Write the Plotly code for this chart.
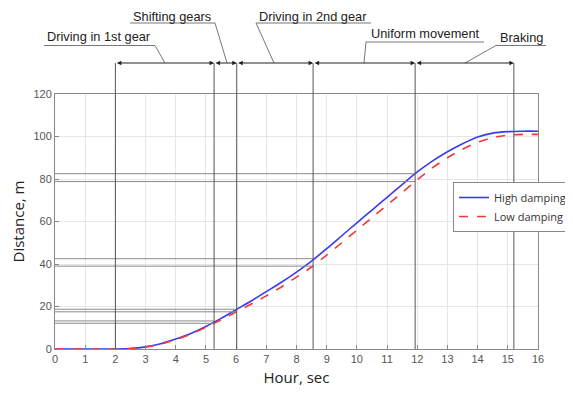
import plotly.graph_objects as go

# ---- data ----
time_s = [0, 0.5, 1, 1.5, 2, 2.5, 3, 3.5, 4, 4.5, 5, 5.5, 6, 6.5, 7, 7.5, 8,
          8.5, 9, 9.5, 10, 10.5, 11, 11.5, 12, 12.5, 13, 13.5, 14, 14.5, 15, 15.5, 16]
high_damping = [0, 0, 0, 0, 0, 0.2, 1.0, 2.5, 4.7, 7.3, 10.6, 14.4, 18.5, 22.6, 27.0, 31.4, 36.2,
                41.4, 47.2, 53.3, 59.4, 65.4, 71.4, 77.4, 83.3, 88.4, 92.8, 96.6, 99.8, 101.6, 102.3, 102.5, 102.5]
low_damping = [0, 0, 0, 0, 0, 0.2, 0.9, 2.3, 4.4, 7.0, 10.2, 13.7, 17.4, 21.2, 25.0, 29.2, 33.8,
               38.6, 44.2, 50.0, 55.9, 61.8, 67.7, 73.6, 79.6, 85.2, 90.0, 94.0, 97.3, 99.5, 100.6, 101.0, 101.0]

event_times = [2.0, 5.27, 6.02, 8.55, 11.93, 15.2]
level_times = [5.27, 6.02, 8.55, 11.93]
level_high = [13.2, 18.7, 42.5, 82.5]
level_low = [12.1, 17.5, 39.0, 78.8]

phase_labels = ["Driving in 1st gear", "Shifting gears", "Driving in 2nd gear",
                "Uniform movement", "Braking"]

x_ticks = list(range(0, 17))
y_ticks = [0, 20, 40, 60, 80, 100, 120]

# ---- layout helpers (page pixel -> paper); page body adds an 8px offset ----
OFF = 8
W, H = 573 - OFF, 394 - OFF
ML, MR, MT, MB = 55 - OFF, 35, 94 - OFF, 45
PW, PH = W - ML - MR, H - MT - MB


def px(x):
    return (x - OFF - ML) / PW


def py(y):
    return (H - MB - (y - OFF)) / PH


fig = go.Figure()
fig.add_trace(go.Scatter(x=time_s, y=high_damping, mode="lines", name="High damping",
                         line=dict(color="#3a3aee", width=1.6, shape="spline", smoothing=0.8)))
fig.add_trace(go.Scatter(x=time_s, y=low_damping, mode="lines", name="Low damping",
                         line=dict(color="#f03a3a", width=1.6, dash="dash", shape="spline", smoothing=0.8)))

shapes = []
# horizontal level lines
for t, a, b in zip(level_times, level_high, level_low):
    for v in (a, b):
        shapes.append(dict(type="line", xref="x", yref="y", x0=0, x1=t, y0=v, y1=v,
                           line=dict(color="#8a8a8a", width=1), layer="above"))
# vertical event lines
dim_y = py(63)
for t in event_times:
    shapes.append(dict(type="line", xref="x", yref="paper", x0=t, x1=t, y0=0, y1=dim_y,
                       line=dict(color="#555555", width=1), layer="above"))

# leader lines (underline + slanted leader)
leaders = [
    # (underline x0, underline x1, underline y, leader from x, leader to x)
    (44, 155, 45.5, 155, 165),
    (130, 215, 23, 215, 227),
    (256, 371, 23, 256, 274),
    (366, 484, 42, 366, 364),
    (496, 546, 45.5, 496, 465),
]
texts_pos = [(99, 37), (172, 17), (313, 17), (425, 34), (521, 38)]
annotations = []
for (u0, u1, uy, lf, lt), (tx, ty), lab in zip(leaders, texts_pos, phase_labels):
    shapes.append(dict(type="line", xref="paper", yref="paper", x0=px(u0), x1=px(u1),
                       y0=py(uy), y1=py(uy), line=dict(color="#777777", width=1)))
    shapes.append(dict(type="line", xref="paper", yref="paper", x0=px(lf), x1=px(lt),
                       y0=py(uy), y1=dim_y, line=dict(color="#777777", width=1)))
    annotations.append(dict(text=lab, xref="paper", yref="paper", x=px(tx), y=py(ty),
                            showarrow=False, xanchor="center", yanchor="middle",
                            font=dict(family="Liberation Sans, Arial", size=12.8, color="#222222")))

# dimension arrows between event lines
for t0, t1 in zip(event_times[:-1], event_times[1:]):
    annotations.append(dict(text="", xref="x", yref="paper", x=t1, y=dim_y,
                            axref="x", ayref="pixel", ax=t0, ay=0,
                            showarrow=True, arrowside="end+start", arrowhead=2,
                            arrowsize=0.9, arrowwidth=1, arrowcolor="#222222",
                            standoff=0, startstandoff=0))

fig.update_layout(
    width=W, height=H,
    margin=dict(l=ML, r=MR, t=MT, b=MB, autoexpand=False),
    paper_bgcolor="white", plot_bgcolor="white",
    shapes=shapes, annotations=annotations,
    showlegend=True,
    legend=dict(x=px(453), y=py(182), xanchor="left", yanchor="top",
                bgcolor="white", bordercolor="#888888", borderwidth=1,
                font=dict(family="Open Sans", size=11, color="#333333"),
                tracegroupgap=0, itemwidth=30),
    xaxis=dict(range=[0, 16], tickvals=x_ticks, ticks="inside", ticklen=4,
               tickcolor="#888888", showline=True, linecolor="#888888", mirror=True,
               showgrid=True, gridcolor="#e6e6e6", zeroline=False,
               tickfont=dict(family="Liberation Sans, Arial", size=11, color="#555555"),
               title=dict(text="Hour, sec", standoff=8,
                          font=dict(family="Open Sans", size=15, color="#222222"))),
    yaxis=dict(range=[0, 120], tickvals=y_ticks, ticks="inside", ticklen=4,
               tickcolor="#888888", showline=True, linecolor="#888888", mirror=True,
               showgrid=True, gridcolor="#e6e6e6", zeroline=False,
               tickfont=dict(family="Liberation Sans, Arial", size=11, color="#555555"),
               title=dict(text="Distance, m", standoff=6,
                          font=dict(family="Open Sans", size=15, color="#222222"))),
)

fig.write_html("out.html")
